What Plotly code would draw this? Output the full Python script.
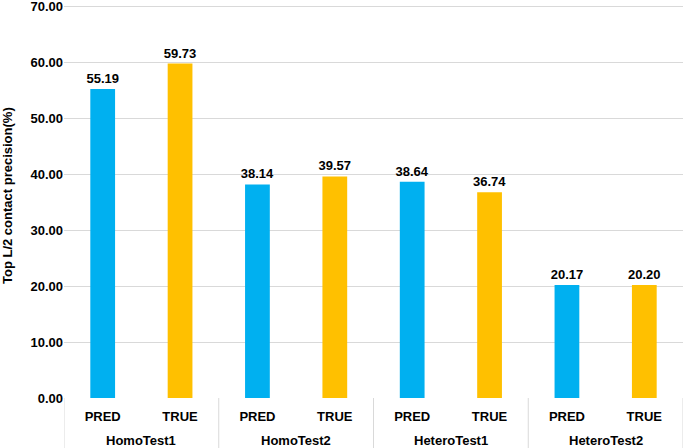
import plotly.graph_objects as go

groups = ["HomoTest1", "HomoTest2", "HeteroTest1", "HeteroTest2"]
methods = ["PRED", "TRUE"]
pred_vals = [55.19, 38.14, 38.64, 20.17]
true_vals = [59.73, 39.57, 36.74, 20.20]
y_ticks = [0, 10, 20, 30, 40, 50, 60, 70]

colors_map = {"PRED": "#00B0F0", "TRUE": "#FFC000"}

xs, labels, ys, cols = [], [], [], []
i = 0
for g, p, t in zip(groups, pred_vals, true_vals):
    for m, v in zip(methods, [p, t]):
        xs.append(i)
        labels.append(m)
        ys.append(v)
        cols.append(colors_map[m])
        i += 1

FONT = "Liberation Sans, Arial, sans-serif"
BOLD = dict(family=FONT, size=13, color="#000", weight="bold")
GRID = "#d9d9d9"

fig = go.Figure(go.Bar(
    x=xs, y=ys,
    marker=dict(color=cols, line=dict(width=0)),
    width=0.32,
    text=[f"{v:.2f}" for v in ys],
    textposition="outside",
    constraintext="none",
    textfont=BOLD,
    cliponaxis=False,
    showlegend=False,
))

n_per = len(methods)
# group dividers and labels
for k, g in enumerate(groups):
    center = k * n_per + (n_per - 1) / 2
    fig.add_annotation(x=center, xref="x", y=0, yref="paper", yshift=-42,
                       text=g, showarrow=False, font=BOLD, yanchor="middle")
for k in range(len(groups) + 1):
    xd = k * n_per - 0.5
    fig.add_shape(type="line", x0=xd, x1=xd, xref="x", y0=0, y1=-0.2, yref="paper",
                  line=dict(color=GRID, width=1))

fig.add_annotation(x=0, xref="paper", xshift=-56, y=(398 - 196) / 393, yref="paper",
                   text="Top L/2 contact precision(%)", textangle=-90, showarrow=False,
                   font=BOLD, xanchor="center", yanchor="middle")

fig.update_layout(
    width=685, height=448,
    margin=dict(l=64, r=2, t=5, b=50),
    plot_bgcolor="white", paper_bgcolor="white",
    font=BOLD,
    xaxis=dict(
        range=[-0.5, len(xs) - 0.5], automargin=False,
        tickvals=xs, ticktext=labels,
        tickfont=BOLD,
        showline=False, showgrid=False, zeroline=False,
        ticks="outside", ticklen=6, tickcolor="rgba(0,0,0,0)",
    ),
    yaxis=dict(
        range=[0, 70.2], tickvals=y_ticks, tickformat=".2f", automargin=False,
        showgrid=True, gridcolor=GRID, gridwidth=1,
        zeroline=False, showline=False, ticks="",
        ticklabeloverflow="allow",
        tickfont=BOLD,
    ),
)

fig.write_html("out.html", config={"displayModeBar": False},
               post_script="document.body.style.margin='0';document.body.style.padding='0';")
